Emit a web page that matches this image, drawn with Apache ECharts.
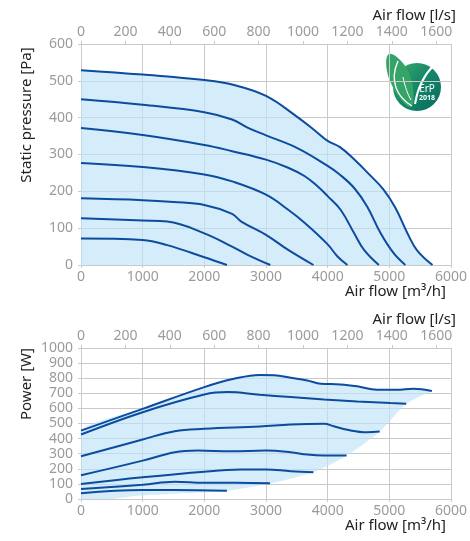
<!DOCTYPE html>
<html>
<head>
<meta charset="utf-8">
<script src="https://cdn.jsdelivr.net/npm/echarts@6/dist/echarts.min.js"></script>
<style>
html, body { margin: 0; padding: 0; background: #fff; }
#chart { width: 470px; height: 541px; }
</style>
</head>
<body>
<div id="chart"></div>
<script>
// pressure curves, [air flow m3/h, static pressure Pa]
var pressureCurve1 = [[0, 529], [1000, 517], [2000, 502], [2500, 488], [3000, 459], [3500, 403], [3800, 364], [4000, 337], [4200, 320], [4450, 284], [4650, 250], [4900, 206], [5100, 155], [5300, 84], [5450, 40], [5700, 0]];
var pressureCurve2 = [[0, 450], [1000, 435], [2000, 415], [2450, 395], [2700, 373], [3000, 352], [3500, 318], [4000, 269], [4200, 245], [4430, 209], [4640, 159], [4860, 86], [5070, 32], [5260, 0]];
var pressureCurve3 = [[0, 372], [1000, 353], [2000, 326], [2450, 309], [3000, 286], [3360, 264], [3630, 241], [3840, 213], [4000, 187], [4210, 150], [4430, 86], [4590, 41], [4830, 0]];
var pressureCurve4 = [[0, 277], [1000, 266], [2000, 246], [2450, 227], [3000, 191], [3360, 150], [3630, 114], [4000, 56], [4160, 23], [4320, 0]];
var pressureCurve5 = [[0, 181], [1000, 176], [1500, 171], [2000, 163], [2450, 139], [2600, 118], [3000, 82], [3360, 41], [3770, 0]];
var pressureCurve6 = [[0, 127], [1000, 121], [1400, 118], [2000, 86], [2450, 50], [2710, 27], [3070, 0]];
var pressureCurve7 = [[0, 72], [1000, 68], [1400, 54], [2000, 21], [2366, 0]];

// power curves, [air flow m3/h, power W]
var powerCurve1 = [[0, 453], [1000, 597], [2000, 741], [2480, 796], [2900, 822], [3130, 819], [3400, 803], [3670, 785], [3890, 763], [4210, 759], [4480, 746], [4800, 723], [5120, 723], [5390, 730], [5690, 715]];
var powerCurve2 = [[0, 427], [1000, 575], [2000, 692], [2380, 708], [2900, 690], [3400, 675], [3940, 659], [4480, 646], [5020, 635], [5274, 631]];
var powerCurve3 = [[0, 283], [1000, 394], [1520, 449], [2000, 465], [2900, 480], [3400, 493], [3940, 498], [4100, 482], [4320, 458], [4640, 442], [4844, 447]];
var powerCurve4 = [[0, 157], [1000, 254], [1520, 310], [1890, 321], [2430, 316], [3000, 321], [3400, 310], [3670, 294], [3940, 288], [4306, 288]];
var powerCurve5 = [[0, 100], [1000, 144], [2000, 181], [2590, 195], [3000, 196], [3400, 184], [3769, 177]];
var powerCurve6 = [[0, 66], [1000, 95], [1520, 115], [2000, 108], [2500, 108], [3065, 104]];
var powerCurve7 = [[0, 38], [1000, 60], [1500, 60], [2366, 55]];
// lower edge of the shaded working range in the power chart
var powerLowerEdge = [[0, 5], [1000, 25], [2000, 45], [2400, 55], [3065, 102], [3769, 177], [4306, 286], [4844, 445], [5274, 630], [5690, 715]];

var flowMax = 6000;              // m3/h
var flowMaxLs = flowMax / 3.6;   // l/s

var LINE_COLOR = '#0b4c9e';
var FILL_COLOR = 'rgba(190, 228, 247, 0.65)';
var GRID_COLOR = '#cacaca';
var LABEL_COLOR = '#9b9b9b';
var FONT = '"Noto Sans", sans-serif';

function flowAxis(grid, top, isLs) {
    return {
        gridIndex: grid,
        type: 'value',
        position: top ? 'top' : 'bottom',
        min: 0,
        max: isLs ? flowMaxLs : flowMax,
        interval: isLs ? 200 : 1000,
        name: isLs ? 'Air flow [l/s]' : 'Air flow [m³/h]',
        nameLocation: 'end',
        nameGap: isLs ? 5 : -5,
        nameTextStyle: {
            color: '#222', fontSize: 15, fontFamily: FONT, align: 'right',
            verticalAlign: top ? 'bottom' : 'top',
            padding: top ? [0, 0, 21, 0] : [19, 0, 0, 0]
        },
        axisLine: {show: true, lineStyle: {color: GRID_COLOR, width: 1}},
        axisTick: {show: true, length: 3, lineStyle: {color: GRID_COLOR}},
        axisLabel: {
            color: LABEL_COLOR, fontSize: 14, fontFamily: FONT, margin: 5,
            showMaxLabel: isLs ? false : true,
            formatter: function (v) {
                return (isLs && Math.round(v) % 200 !== 0) ? '' : String(Math.round(v));
            }
        },
        splitLine: {show: !isLs, lineStyle: {color: GRID_COLOR, width: 1}}
    };
}

function valueAxis(grid, max) {
    return {
        gridIndex: grid,
        type: 'value',
        min: 0,
        max: max,
        interval: 100,
        axisLine: {show: true, lineStyle: {color: GRID_COLOR, width: 1}},
        axisTick: {show: true, length: 3, lineStyle: {color: GRID_COLOR}},
        axisLabel: {
            color: LABEL_COLOR, fontSize: 14, fontFamily: FONT, margin: 8,
            formatter: function (v) { return String(v); }
        },
        splitLine: {show: true, lineStyle: {color: GRID_COLOR, width: 1}}
    };
}

function curve(data, xIdx, yIdx, withArea) {
    var s = {
        type: 'line',
        xAxisIndex: xIdx,
        yAxisIndex: yIdx,
        data: data,
        smooth: 0.4,
        symbol: 'none',
        z: 3,
        lineStyle: {color: LINE_COLOR, width: 2}
    };
    if (withArea) {
        s.areaStyle = {color: FILL_COLOR, opacity: 1};
    }
    return s;
}

var pressureCurves = [pressureCurve1, pressureCurve2, pressureCurve3, pressureCurve4, pressureCurve5, pressureCurve6, pressureCurve7];
var powerCurves = [powerCurve1, powerCurve2, powerCurve3, powerCurve4, powerCurve5, powerCurve6, powerCurve7];

var series = [];
pressureCurves.forEach(function (c, i) {
    series.push(curve(c, 0, 0, i === 0));
});
// shaded range under the power curves
series.push({
    type: 'custom',
    xAxisIndex: 2,
    yAxisIndex: 1,
    data: [[0, 0]],
    z: 1,
    silent: true,
    clip: true,
    renderItem: function (params, api) {
        var upper = powerCurve1.map(function (p) { return api.coord(p); });
        var lower = powerLowerEdge.slice().reverse().map(function (p) { return api.coord(p); });
        return {
            type: 'polygon',
            shape: {points: upper.concat(lower), smooth: 0.2},
            style: {fill: FILL_COLOR}
        };
    }
});
powerCurves.forEach(function (c) {
    series.push(curve(c, 2, 1, false));
});

var badgeGreen = new echarts.graphic.LinearGradient(0, 0, 1, 1, [
    {offset: 0, color: '#3fae66'}, {offset: 0.45, color: '#16896a'}, {offset: 1, color: '#066a5f'}
]);

var option = {
    backgroundColor: '#fff',
    animation: false,
    grid: [
        {left: 81, right: 16, top: 44, height: 221},
        {left: 81, right: 16, top: 348, height: 151}
    ],
    xAxis: [
        flowAxis(0, false, false),
        flowAxis(0, true, true),
        flowAxis(1, false, false),
        flowAxis(1, true, true)
    ],
    yAxis: [
        valueAxis(0, 600),
        valueAxis(1, 1000)
    ],
    graphic: [
        {
            type: 'text', x: 27, y: 115, rotation: Math.PI / 2,
            style: {text: 'Static pressure [Pa]', fill: '#222', fontSize: 15, fontFamily: FONT, align: 'center', verticalAlign: 'middle'}
        },
        {
            type: 'text', x: 27, y: 384, rotation: Math.PI / 2,
            style: {text: 'Power [W]', fill: '#222', fontSize: 15, fontFamily: FONT, align: 'center', verticalAlign: 'middle'}
        },
        // ErP 2018 badge
        {
            type: 'group', x: 417, y: 87, z: 10,
            children: [
                {type: 'rect', shape: {x: -37, y: -36, width: 61, height: 66}, style: {fill: '#fff'}},
                {type: 'circle', shape: {cx: 0, cy: 0, r: 24}, style: {fill: badgeGreen}},
                {
                    type: 'polygon',
                    shape: {points: [[-28, -33], [-27, -6], [-6, 20], [-8, -14]], smooth: 0.45},
                    style: {fill: '#34a468'}
                },
                {
                    type: 'bezierCurve',
                    shape: {x1: -19, y1: -26, cpx1: -28, cpy1: -6, cpx2: -20, cpy2: 10, x2: -5, y2: 19},
                    style: {fill: null, stroke: '#fff', lineWidth: 1.4}
                },
                {
                    type: 'bezierCurve',
                    shape: {x1: -14, y1: -10, cpx1: -12, cpy1: 0, cpx2: -9, cpy2: 8, x2: -6, y2: 13},
                    style: {fill: null, stroke: '#fff', lineWidth: 1}
                },
                {
                    type: 'bezierCurve',
                    shape: {x1: 17, y1: -22, cpx1: 5, cpy1: -10, cpx2: 0, cpy2: 4, x2: -2, y2: 17},
                    style: {fill: null, stroke: '#fff', lineWidth: 2}
                },
                {type: 'text', x: 10, y: 2, style: {text: 'ErP', fill: '#fff', fontSize: 10, fontFamily: FONT, align: 'center', verticalAlign: 'middle'}},
                {type: 'text', x: 10, y: 11, style: {text: '2018', fill: '#fff', fontSize: 7, fontWeight: 'bold', fontFamily: FONT, align: 'center', verticalAlign: 'middle'}}
            ]
        }
    ],
    series: series
};

var myChart = echarts.init(document.getElementById('chart'));
myChart.setOption(option);
</script>
</body>
</html>
